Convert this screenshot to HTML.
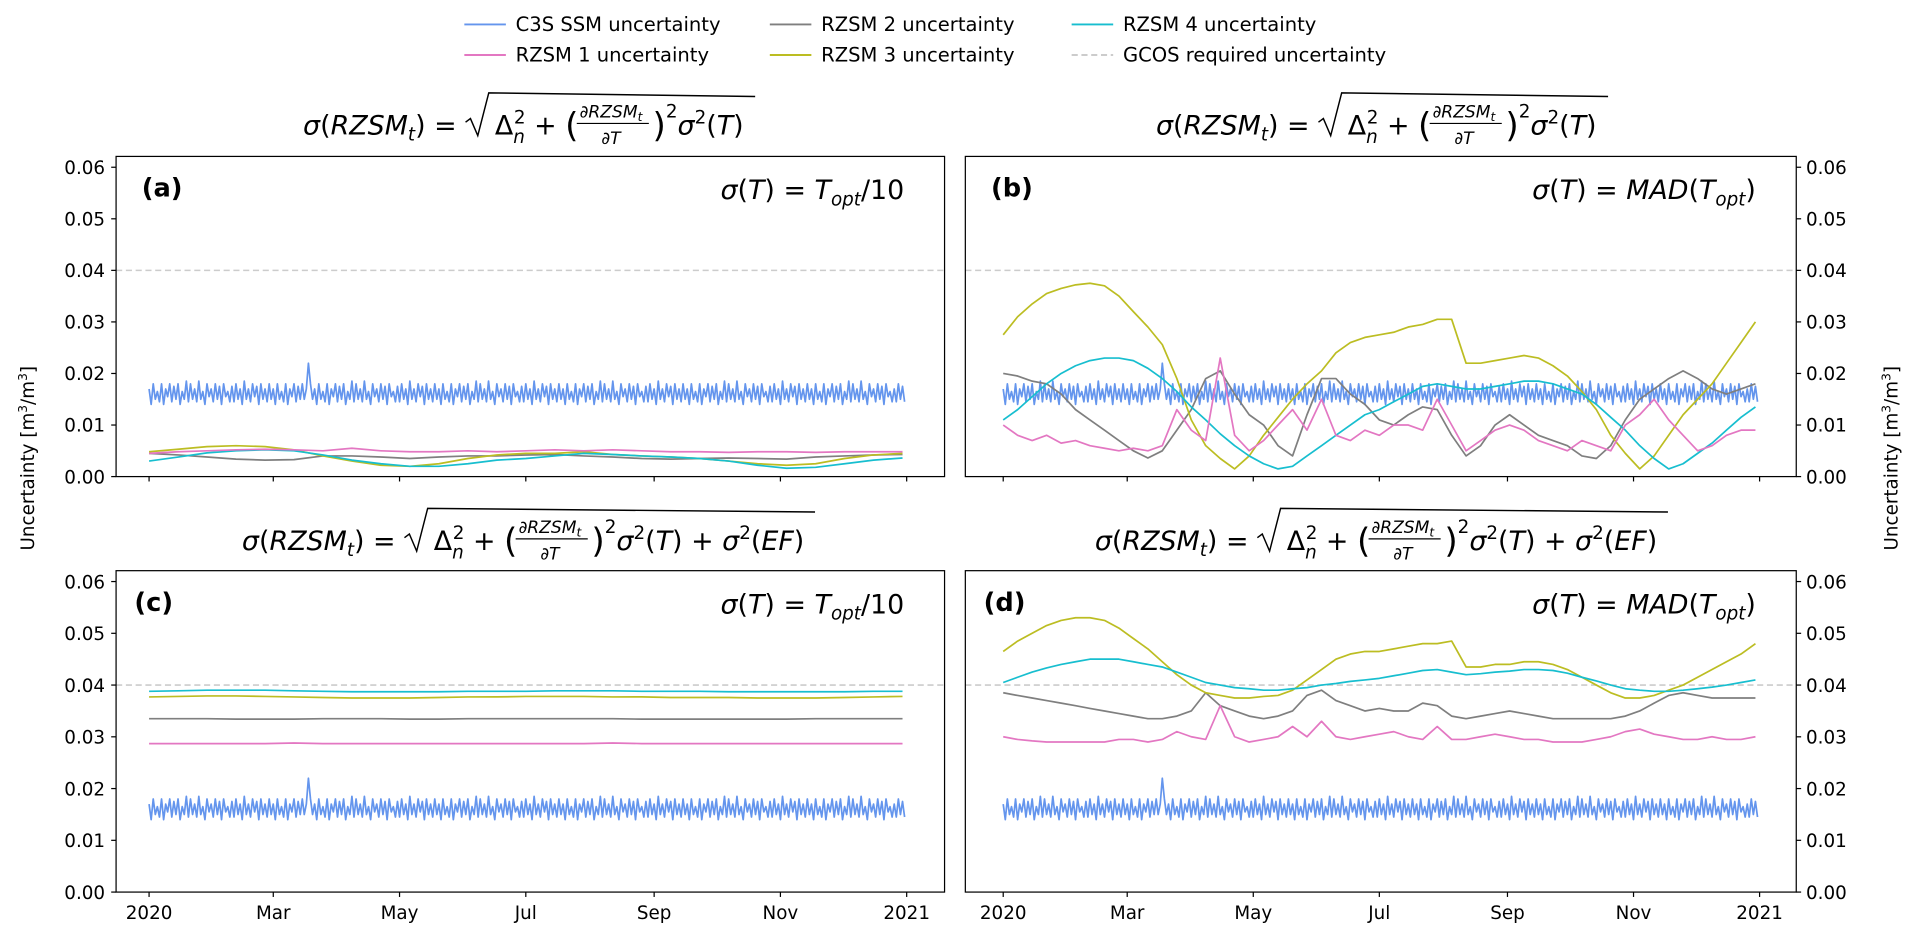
<!DOCTYPE html>
<html><head><meta charset="utf-8"><style>
html,body{margin:0;padding:0;background:#fff;}
svg{display:block;font-family:"DejaVu Sans","Liberation Sans",sans-serif;}
</style></head><body>
<svg id="fig" width="1916" height="939" viewBox="0 0 1568 768.4" preserveAspectRatio="none" xmlns="http://www.w3.org/2000/svg"></svg>
<script>
// values in 1e-3 m3/m3
const monthLabels = ["2020","Mar","May","Jul","Sep","Nov","2021"];
const monthDays = [0,60,121,182,244,305,366];
const yTicks = [0,0.01,0.02,0.03,0.04,0.05,0.06];
const yTickLabels = ["0.00","0.01","0.02","0.03","0.04","0.05","0.06"];
const gcosLevel = 40;
const c3s = [
17,14,18,15,16.5,14.5,18,14,17,15.5,18,14.5,17.5,15,18,14,16.5,15,18.5,14.5,
18,15,17,14.5,18.5,15,16.5,14,18,15.5,17,14.5,18,15,17.5,14,18,15.5,16.5,14.5,
17.5,14.5,18,15,17,14,18.5,15,17,14.5,18,15.5,17.5,14,18,15,17,14.5,18,15,
17,14,18,15,16.5,14.5,18,14,17,15.5,18,14.5,17.5,15,18,15,17,22,18,15,
17,14,18,15,16.5,14.5,18,14,17,15.5,18,14.5,17.5,15,18,14,16.5,15,18.5,14.5,
18,15,17,14.5,18.5,15,16.5,14,18,15.5,17,14.5,18,15,17.5,14,18,15.5,16.5,14.5,
17.5,14.5,18,15,17,14,18.5,15,17,14.5,18,15.5,17.5,14,18,15,17,14.5,18,15,
17,14,18,15,16.5,14.5,18,14,17,15.5,18,14.5,17.5,15,18,14,16.5,15,18.5,14.5,
18,15,17,14.5,18.5,15,16.5,14,18,15.5,17,14.5,18,15,17.5,14,18,15.5,16.5,14.5,
17.5,14.5,18,15,17,14,18.5,15,17,14.5,18,15.5,17.5,14,18,15,17,14.5,18,15,
17,14,18,15,16.5,14.5,18,14,17,15.5,18,14.5,17.5,15,18,14,16.5,15,18.5,14.5,
18,15,17,14.5,18.5,15,16.5,14,18,15.5,17,14.5,18,15,17.5,14,18,15.5,16.5,14.5,
17.5,14.5,18,15,17,14,18.5,15,17,14.5,18,15.5,17.5,14,18,15,17,14.5,18,15,
17,14,18,15,16.5,14.5,18,14,17,15.5,18,14.5,17.5,15,18,14,16.5,15,18.5,14.5,
18,15,17,14.5,18.5,15,16.5,14,18,15.5,17,14.5,18,15,17.5,14,18,15.5,16.5,14.5,
17.5,14.5,18,15,17,14,18.5,15,17,14.5,18,15.5,17.5,14,18,15,17,14.5,18,15,
17,14,18,15,16.5,14.5,18,14,17,15.5,18,14.5,17.5,15,18,14,16.5,15,18.5,14.5,
18,15,17,14.5,18.5,15,16.5,14,18,15.5,17,14.5,18,15,17.5,14,18,15.5,16.5,14.5,
17,14.5,18,15,17.5,14.5];
const a1 = [4.5,4.8,5.0,5.2,5.3,5.2,5.0,5.5,5.0,4.8,4.8,5.0,4.8,5.0,5.2,5.0,5.2,5.0,4.8,4.8,4.7,4.8,4.8,4.7,4.8,4.8,4.8];
const a2 = [4.5,4.2,3.8,3.4,3.2,3.3,4.0,4.0,3.8,3.5,3.8,4.0,4.0,4.2,4.3,4.0,3.8,3.5,3.4,3.5,3.6,3.5,3.4,3.8,4.0,4.2,4.3];
const a3 = [4.8,5.3,5.8,6.0,5.8,5.2,4.0,3.0,2.2,2.0,2.5,3.5,4.2,4.5,4.5,4.8,4.3,4.0,3.8,3.5,3.0,2.5,2.2,2.5,3.5,4.2,4.5];
const a4 = [3.0,3.8,4.6,5.0,5.2,5.0,4.2,3.2,2.5,2.0,2.0,2.5,3.2,3.5,4.0,4.5,4.3,4.0,3.8,3.5,3.0,2.2,1.6,1.8,2.5,3.2,3.6];
const b1 = [10,8,7,8,6.5,7,6,5.5,5,5.5,5,6,13,9,7,23,8,5,7,10,13,9,15,8,7,9,8,10,10,9,15,10,5,7,9,10,9,7,6,5,7,6,5,10,12,15,11,8,5,6,8,9,9];
const b2 = [20,19.5,18.5,18,16,13,11,9,7,5,3.6,5,9,13,19,20.5,16,12,10,6,4,12,19,19,16,14,11,10,12,13.5,13,8,4,6,10,12,10,8,7,6,4,3.5,6,11,15,17,19,20.5,19,17,16,17,18];
const b3 = [27.5,31,33.5,35.5,36.5,37.2,37.5,37,35,32,29,25.6,19,11,6,3.5,1.5,4,8,11.5,15,18,20.5,24,26,27,27.5,28,29,29.5,30.5,30.5,22,22,22.5,23,23.5,23,21.5,19.5,16.5,13,8,4.5,1.5,4,8,12,15,18,22,26,30];
const b4 = [11,13,15.5,18,20,21.5,22.5,23,23,22.5,21,19,16.5,13.5,11,8.3,6,4,2.5,1.5,2,4,6,8,10,12,13,14.5,16,17.5,18,17.5,17,17,17.5,18,18.5,18.5,18,17,16,14,11.5,9,6,3.5,1.5,2.5,4.5,6.5,9,11.5,13.5];
const c1 = [28.7,28.7,28.7,28.7,28.7,28.8,28.7,28.7,28.7,28.7,28.7,28.7,28.7,28.7,28.7,28.7,28.8,28.7,28.7,28.7,28.7,28.7,28.7,28.7,28.7,28.7,28.7];
const c2 = [33.5,33.5,33.5,33.4,33.4,33.4,33.5,33.5,33.5,33.4,33.4,33.5,33.5,33.5,33.5,33.5,33.5,33.4,33.4,33.4,33.4,33.4,33.4,33.5,33.5,33.5,33.5];
const c3 = [37.7,37.8,37.9,37.9,37.8,37.7,37.6,37.5,37.5,37.5,37.6,37.7,37.7,37.8,37.8,37.8,37.7,37.7,37.6,37.6,37.6,37.5,37.5,37.5,37.6,37.7,37.8];
const c4 = [38.8,38.9,39.0,39.0,39.0,38.9,38.8,38.7,38.7,38.7,38.7,38.8,38.8,38.8,38.9,38.9,38.9,38.8,38.8,38.8,38.7,38.7,38.7,38.7,38.7,38.8,38.8];
const d1 = [30,29.5,29.2,29,29,29,29,29,29.5,29.5,29,29.5,31,30,29.5,36,30,29,29.5,30,32,30,33,30,29.5,30,30.5,31,30,29.5,32,29.5,29.5,30,30.5,30,29.5,29.5,29,29,29,29.5,30,31,31.5,30.5,30,29.5,29.5,30,29.5,29.5,30];
const d2 = [38.5,38,37.5,37,36.5,36,35.5,35,34.5,34,33.5,33.5,34,35,38.5,36,35,34,33.5,34,35,38,39,37,36,35,35.5,35,35,36.5,36,34,33.5,34,34.5,35,34.5,34,33.5,33.5,33.5,33.5,33.5,34,35,36.5,38,38.5,38,37.5,37.5,37.5,37.5];
const d3 = [46.5,48.5,50,51.5,52.5,53,53,52.5,51,49,47,44.5,42,40,38.5,38,37.5,37.5,37.8,38,39,41,43,45,46,46.5,46.5,47,47.5,48,48,48.5,43.5,43.5,44,44,44.5,44.5,44,43,41.5,40,38.5,37.5,37.5,38,39,40,41.5,43,44.5,46,48];
const d4 = [40.5,41.5,42.5,43.3,44,44.5,45,45,45,44.5,44,43.5,42.5,41.5,40.5,40,39.5,39.3,39,39,39.3,39.5,40,40.3,40.7,41,41.3,41.8,42.3,42.8,43,42.5,42,42.2,42.5,42.7,43,43,42.8,42.3,41.5,40.8,40,39.3,39,38.8,38.8,39,39.3,39.6,40,40.5,41];

const NS = "http://www.w3.org/2000/svg";
const svg = document.getElementById('fig');
const COL = {c3s:"#6495ed", r1:"#e377c2", r2:"#7f7f7f", r3:"#bcbd22", r4:"#17becf"};
function mk(tag, attrs, parent){ const e=document.createElementNS(NS,tag); for(const k in attrs) e.setAttribute(k,attrs[k]); (parent||svg).appendChild(e); return e; }

const panels = [
 {id:"a", x0:95, x1:773, y0:128, y1:390, dx0:122, dx1:742, right:false, xl:false, series:[a1,a2,a3,a4], label:"(a)", lx:116, sig:"T_opt/10"},
 {id:"b", x0:790, x1:1470, y0:128, y1:390, dx0:821, dx1:1440, right:true, xl:false, series:[b1,b2,b3,b4], label:"(b)", lx:811, sig:"MAD"},
 {id:"c", x0:95, x1:773, y0:467, y1:730, dx0:122, dx1:742, right:false, xl:true, series:[c1,c2,c3,c4], label:"(c)", lx:110, sig:"T_opt/10"},
 {id:"d", x0:790, x1:1470, y0:467, y1:730, dx0:821, dx1:1440, right:true, xl:true, series:[d1,d2,d3,d4], label:"(d)", lx:805, sig:"MAD"}
];
const YMAX = 0.0621;
panels.forEach(p=>{
  const g = mk('g',{});
  
  
  const xs = d => p.dx0 + d*(p.dx1-p.dx0)/366;
  const ys = v => p.y1 - (v/1000)/YMAX*(p.y1-p.y0);
  const gl = mk('line',{x1:p.x0,x2:p.x1,y1:ys(gcosLevel),y2:ys(gcosLevel),stroke:"#cccccc","stroke-width":1.3,"stroke-dasharray":"5,3"},g);
  
  
  function line(arr, color, name, span){
    const n=arr.length; const pts=arr.map((v,i)=>xs(i*span/(n-1)).toFixed(1)+","+ys(v).toFixed(1)).join(" ");
    const pl = mk('polyline',{points:pts,fill:"none",stroke:color,"stroke-width":1.4,"stroke-linejoin":"round"},g);
    
    
  }
  line(c3s, COL.c3s, 'c3s-ssm-line', 365);
  line(p.series[1], COL.r2, 'rzsm2-line', 364);
  line(p.series[2], COL.r3, 'rzsm3-line', 364);
  line(p.series[3], COL.r4, 'rzsm4-line', 364);
  line(p.series[0], COL.r1, 'rzsm1-line', 364);
  const fr = mk('rect',{x:p.x0,y:p.y0,width:p.x1-p.x0,height:p.y1-p.y0,fill:"none",stroke:"#000","stroke-width":1},g);
  
  
  yTicks.forEach((t,i)=>{
    const y=ys(t*1000);
    if(p.right){
      mk('line',{x1:p.x1,x2:p.x1+4,y1:y,y2:y,stroke:"#000"},g);
      const tx=mk('text',{x:p.x1+8,y:y+5.5,"font-size":15,fill:"#000"},g); tx.textContent=yTickLabels[i];
      
      
    } else {
      mk('line',{x1:p.x0-4,x2:p.x0,y1:y,y2:y,stroke:"#000"},g);
      const tx=mk('text',{x:p.x0-9,y:y+5.5,"font-size":15,"text-anchor":"end",fill:"#000"},g); tx.textContent=yTickLabels[i];
      
      
    }
  });
  monthDays.forEach((d,i)=>{
    const x=xs(d);
    mk('line',{x1:x,x2:x,y1:p.y1,y2:p.y1+4,stroke:"#000"},g);
    if(p.xl){ const tx=mk('text',{x:x,y:p.y1+22,"font-size":15,"text-anchor":"middle",fill:"#000"},g); tx.textContent=monthLabels[i];
      
       }
  });
  const lb=mk('text',{x:p.lx,y:p.y0+33,"font-size":21,"font-weight":"bold",fill:"#000"},g); lb.textContent=p.label;
  
  
  const st=mk('text',{x:p.x0+(p.id==="a"||p.id==="c"?645:647),y:p.y0+35,"font-size":22,"text-anchor":"end",fill:"#000"},g);
  
  
  if(p.sig==="MAD"){ st.innerHTML='<tspan font-style="italic">σ</tspan>(<tspan font-style="italic">T</tspan>) = <tspan font-style="italic">MAD</tspan>(<tspan font-style="italic">T</tspan><tspan font-style="italic" font-size="15" dy="5">opt</tspan><tspan dy="-5">)</tspan>'; }
  else { st.innerHTML='<tspan font-style="italic">σ</tspan>(<tspan font-style="italic">T</tspan>) = <tspan font-style="italic">T</tspan><tspan font-style="italic" font-size="15" dy="5">opt</tspan><tspan dy="-5">/10</tspan>'; }
});

function title(x0, y, withEF, name){
  const g=mk('g',{});
  
  
  const fs=22;
  const t1=mk('text',{x:x0,y:y,"font-size":fs,fill:"#000"},g);
  t1.innerHTML='<tspan font-style="italic">σ</tspan>(<tspan font-style="italic">RZSM</tspan><tspan font-style="italic" font-size="15" dy="5">t</tspan><tspan dy="-5">) =</tspan>';
  mk('path',{d:`M${x0+133},${y-10} l4,-3 l6,14 l9,-35 L${x0+(withEF?469:370)},${y-31}`,fill:"none",stroke:"#000","stroke-width":1.2},g);
  const t2=mk('text',{x:x0+157,y:y,"font-size":fs,fill:"#000"},g);
  t2.innerHTML='Δ<tspan font-size="15" dy="7" font-style="italic">n</tspan><tspan font-size="15" dx="-9" dy="-16">2</tspan><tspan dy="9"> + </tspan><tspan font-size="28" dy="2">(</tspan>';
  const f1=mk('text',{x:x0+252,y:y-14,"font-size":14,"text-anchor":"middle",fill:"#000"},g);
  f1.innerHTML='∂<tspan font-style="italic">RZSM</tspan><tspan font-style="italic" font-size="10" dy="3">t</tspan>';
  mk('line',{x1:x0+224,x2:x0+283,y1:y-9,y2:y-9,stroke:"#000","stroke-width":1},g);
  const f2=mk('text',{x:x0+252,y:y+8,"font-size":14,"text-anchor":"middle",fill:"#000"},g);
  f2.innerHTML='∂<tspan font-style="italic">T</tspan>';
  const t3=mk('text',{x:x0+286,y:y,"font-size":fs,fill:"#000"},g);
  t3.innerHTML='<tspan font-size="28" dy="2">)</tspan><tspan font-size="15" dy="-16">2</tspan><tspan font-style="italic" dy="14">σ</tspan><tspan font-size="15" dy="-9">2</tspan><tspan dy="9">(</tspan><tspan font-style="italic">T</tspan>)'+(withEF?' + <tspan font-style="italic">σ</tspan><tspan font-size="15" dy="-9">2</tspan><tspan dy="9">(</tspan><tspan font-style="italic">EF</tspan>)':'');
}
title(248,110,false,'title-a');
title(946,110,false,'title-b');
title(198,450,true,'title-c');
title(896,450,true,'title-d');

const yl=mk('text',{x:0,y:0,"font-size":15,"text-anchor":"middle",transform:"translate(28,375) rotate(-90)",fill:"#000"});
yl.innerHTML='Uncertainty [m<tspan font-size="10" dy="-6">3</tspan><tspan dy="6">/m</tspan><tspan font-size="10" dy="-6">3</tspan><tspan dy="6">]</tspan>';


const yr=mk('text',{x:0,y:0,"font-size":15,"text-anchor":"middle",transform:"translate(1553,375) rotate(-90)",fill:"#000"});
yr.innerHTML='Uncertainty [m<tspan font-size="10" dy="-6">3</tspan><tspan dy="6">/m</tspan><tspan font-size="10" dy="-6">3</tspan><tspan dy="6">]</tspan>';



const legendNames = ["C3S SSM uncertainty","RZSM 1 uncertainty","RZSM 2 uncertainty","RZSM 3 uncertainty","RZSM 4 uncertainty","GCOS required uncertainty"];
const legendColors = [COL.c3s,COL.r1,COL.r2,COL.r3,COL.r4,"#cccccc"];
const legendCols = [380,380,630,630,877,877];
const legendRows = [20,45,20,45,20,45];
legendNames.forEach((nm,i)=>{
  const g=mk('g',{});
  
  
  const ln=mk('line',{x1:legendCols[i],x2:legendCols[i]+34,y1:legendRows[i],y2:legendRows[i],stroke:legendColors[i],"stroke-width":1.6},g);
  if(i===5) ln.setAttribute('stroke-dasharray','5,3');
  const t=mk('text',{x:legendCols[i]+42,y:legendRows[i]+5.5,"font-size":16,fill:"#000"},g); t.textContent=nm;
});
</script>
</body></html>
